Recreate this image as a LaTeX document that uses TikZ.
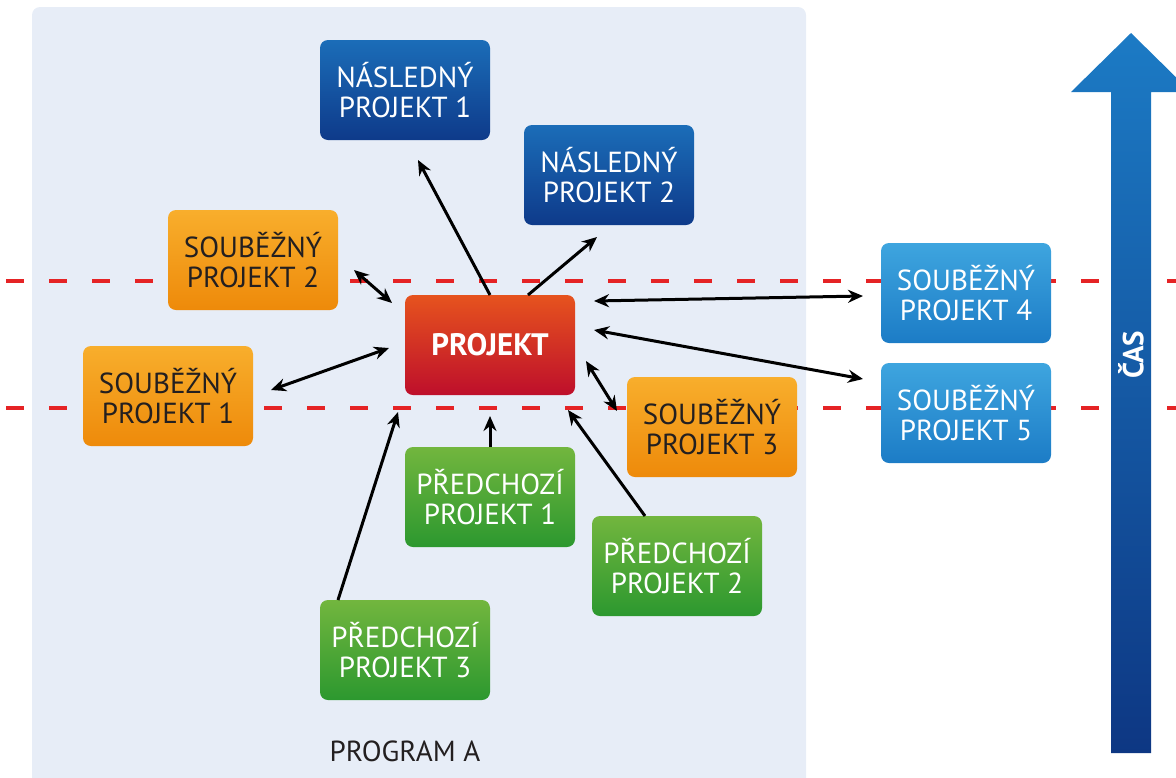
\documentclass[tikz,border=0pt]{standalone}
\usepackage{fontspec}
\setmainfont{PT Sans}
\usetikzlibrary{arrows.meta}
\definecolor{panel}{HTML}{E7EDF7}
\definecolor{blueT}{HTML}{1B6DB8}
\definecolor{blueB}{HTML}{0E3A8A}
\definecolor{lblueT}{HTML}{3EA5DF}
\definecolor{lblueB}{HTML}{1C7CC6}
\definecolor{orT}{HTML}{F8AE2C}
\definecolor{orB}{HTML}{EE8A0A}
\definecolor{redT}{HTML}{E6531E}
\definecolor{redB}{HTML}{BE0F2B}
\definecolor{grT}{HTML}{72B63E}
\definecolor{grB}{HTML}{2C982F}
\definecolor{dashred}{HTML}{E52325}
\definecolor{txt}{HTML}{231F20}
\tikzset{
  box/.style={rounded corners=8pt, minimum width=170pt, minimum height=100pt, align=center,
    inner sep=0pt, font=\fontsize{29}{30}\selectfont},
  naslbox/.style={box, top color=blueT, bottom color=blueB, text=white},
  soubbox/.style={box, top color=orT, bottom color=orB, text=txt},
  soublbox/.style={box, top color=lblueT, bottom color=lblueB, text=white},
  predbox/.style={box, top color=grT, bottom color=grB, text=white},
  projbox/.style={box, top color=redT, bottom color=redB, text=white, font=\fontsize{31}{30}\selectfont\bfseries},
  conn/.style={line width=3pt, black, -{Stealth[length=15pt,width=13pt]}},
  bconn/.style={line width=3pt, black, {Stealth[length=15pt,width=13pt]}-{Stealth[length=15pt,width=13pt]}},
  dline/.style={dashred, line width=3.5pt, dash pattern=on 18pt off 25pt},
}
\begin{document}
\begin{tikzpicture}[x=1pt,y=-1pt]
\useasboundingbox (0,0) rectangle (1176,777);
% panel
\fill[panel, rounded corners=8pt] (32,7) rectangle (806,790);
\node[font=\fontsize{29}{30}\selectfont, text=txt] (prog) at (405,751) {PROGRAM A};
% dashed lines
\draw[dline] (6,281) -- (1176,281);
\draw[dline] (6,408) -- (1176,408);
% time arrow
\shade[top color=lblueB!90!blueT, bottom color=blueB!95!black]
  (1111,753) -- (1111,92) -- (1071,92) -- (1131,33) -- (1191,92) -- (1151,92) -- (1151,753) -- cycle;
\node[rotate=90, text=white, font=\fontsize{29}{30}\selectfont\bfseries] (cas) at (1131,355) {ČAS};
% nodes
\node[naslbox] (n1) at (405,90) {NÁSLEDNÝ\\PROJEKT 1};
\node[naslbox] (n2) at (609,175) {NÁSLEDNÝ\\PROJEKT 2};
\node[soubbox] (s2) at (253,260) {SOUBĚŽNÝ\\PROJEKT 2};
\node[soubbox] (s1) at (168,396) {SOUBĚŽNÝ\\PROJEKT 1};
\node[projbox] (p) at (490,345) {PROJEKT};
\node[soubbox] (s3) at (712,427) {SOUBĚŽNÝ\\PROJEKT 3};
\node[soublbox] (s4) at (966,293) {SOUBĚŽNÝ\\PROJEKT 4};
\node[soublbox] (s5) at (966,413) {SOUBĚŽNÝ\\PROJEKT 5};
\node[predbox] (p1) at (490,497) {PŘEDCHOZÍ\\PROJEKT 1};
\node[predbox] (p2) at (677,566) {PŘEDCHOZÍ\\PROJEKT 2};
\node[predbox] (p3) at (405,650) {PŘEDCHOZÍ\\PROJEKT 3};
% connector endpoints
\coordinate (a1s) at (490,295); \coordinate (a1e) at (418,160);
\coordinate (a2s) at (528,295); \coordinate (a2e) at (597,237);
\coordinate (b2s) at (354,270); \coordinate (b2e) at (392,303);
\coordinate (b1s) at (271,390); \coordinate (b1e) at (389,348);
\coordinate (b4s) at (594,301); \coordinate (b4e) at (863,296);
\coordinate (b5s) at (594,330); \coordinate (b5e) at (863,379);
\coordinate (b3s) at (586,361); \coordinate (b3e) at (617,411);
\coordinate (c1s) at (490,447); \coordinate (c1e) at (490,416);
\coordinate (c2s) at (645,516); \coordinate (c2e) at (568,410);
\coordinate (c3s) at (338,600); \coordinate (c3e) at (398,412);
% connectors
\draw[conn] (a1s) -- (a1e);
\draw[conn] (a2s) -- (a2e);
\draw[bconn] (b2s) -- (b2e);
\draw[bconn] (b1s) -- (b1e);
\draw[bconn] (b4s) -- (b4e);
\draw[bconn] (b5s) -- (b5e);
\draw[bconn] (b3s) -- (b3e);
\draw[conn] (c1s) -- (c1e);
\draw[conn] (c2s) -- (c2e);
\draw[conn] (c3s) -- (c3e);
\end{tikzpicture}
\end{document}
